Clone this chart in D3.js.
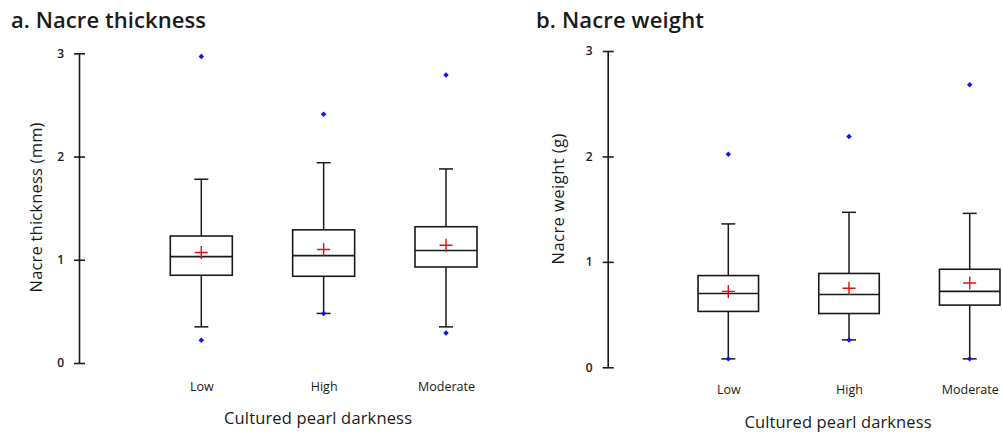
<!DOCTYPE html>
<html>
<head>
<meta charset="utf-8">
<script src="https://cdn.jsdelivr.net/npm/d3@7"></script>
<style>
  html, body { margin: 0; padding: 0; background: #fff; }
  svg { display: block; }
  text { font-family: "Open Sans", Lato, sans-serif; fill: #1a1a1a; }
</style>
</head>
<body>
<svg id="chart" width="1002" height="432"></svg>
<script>
// ---- data ----
const categories = ["Low", "High", "Moderate"];
const yTicks = [0, 1, 2, 3];

// a. Nacre thickness (mm)
const thickWhiskerLow  = [0.35, 0.48, 0.35];
const thickQ1          = [0.85, 0.84, 0.93];
const thickMedian      = [1.03, 1.04, 1.09];
const thickMean        = [1.07, 1.10, 1.14];
const thickQ3          = [1.23, 1.29, 1.32];
const thickWhiskerHigh = [1.78, 1.94, 1.88];
const thickOutliers    = [[2.97, 0.22], [2.41, 0.48], [2.79, 0.29]];

// b. Nacre weight (g)
const weightWhiskerLow  = [0.08, 0.26, 0.08];
const weightQ1          = [0.53, 0.51, 0.59];
const weightMedian      = [0.70, 0.69, 0.72];
const weightMean        = [0.72, 0.75, 0.80];
const weightQ3          = [0.87, 0.89, 0.93];
const weightWhiskerHigh = [1.36, 1.47, 1.46];
const weightOutliers    = [[2.02, 0.08], [2.19, 0.26], [2.68, 0.08]];

// ---- layout ----
const panels = [
  {
    title: "a. Nacre thickness", titleX: 11, titleY: 28, titleLen: 195,
    yLabel: "Nacre thickness (mm)", yLabelX: 35, yLabelY: 207.5, yLabelLen: 170,
    xLabel: "Cultured pearl darkness", xLabelX: 318, xLabelY: 424, xLabelLen: 188,
    axisX: 79, yRange: [363, 53.3], xRange: [201.3, 446], boxW: 62,
    catY: 390,
    stats: { lo: thickWhiskerLow, q1: thickQ1, med: thickMedian, mean: thickMean,
             q3: thickQ3, hi: thickWhiskerHigh, out: thickOutliers }
  },
  {
    title: "b. Nacre weight", titleX: 536, titleY: 28, titleLen: 168,
    yLabel: "Nacre weight (g)", yLabelX: 557, yLabelY: 199, yLabelLen: 131,
    xLabel: "Cultured pearl darkness", xLabelX: 838, xLabelY: 427.5, xLabelLen: 187,
    axisX: 607.7, yRange: [367.3, 51], xRange: [728.3, 969.7], boxW: 60.5,
    catY: 393,
    stats: { lo: weightWhiskerLow, q1: weightQ1, med: weightMedian, mean: weightMean,
             q3: weightQ3, hi: weightWhiskerHigh, out: weightOutliers }
  }
];

const svg = d3.select("#chart");
const lineColor = "#1a1a1a";

panels.forEach(p => {
  const g = svg.append("g");
  const y = d3.scaleLinear().domain([0, 3]).range(p.yRange);
  const x = d3.scalePoint().domain(categories).range(p.xRange);

  // title
  g.append("text").attr("x", p.titleX).attr("y", p.titleY)
    .attr("font-size", 22).attr("font-weight", 600)
    .attr("textLength", p.titleLen).text(p.title);

  // y axis
  const ya = g.append("g").attr("transform", `translate(${p.axisX},0)`)
    .call(d3.axisLeft(y).tickValues(yTicks).tickSize(0).tickPadding(15).tickFormat(d3.format("d")));
  ya.select(".domain").attr("stroke", lineColor).attr("stroke-width", 1.6);
  ya.selectAll(".tick text").attr("font-size", 12).attr("font-family", "'Open Sans', sans-serif")
    .attr("fill", "#1a1a1a").attr("font-weight", 600);
  ya.selectAll(".tick").append("line")
    .attr("x1", -5).attr("x2", 6).attr("stroke", lineColor).attr("stroke-width", 1.6);

  // x axis (labels only)
  const xa = g.append("g").attr("transform", `translate(0,${p.catY - 8})`)
    .call(d3.axisBottom(x).tickSize(0).tickPadding(0));
  xa.select(".domain").remove();
  xa.selectAll(".tick text").attr("font-size", 12.5).attr("font-family", "'Open Sans', sans-serif")
    .attr("fill", "#1a1a1a");

  // axis titles
  g.append("text").attr("x", p.xLabelX).attr("y", p.xLabelY)
    .attr("text-anchor", "middle").attr("font-size", 16.5)
    .attr("textLength", p.xLabelLen).text(p.xLabel);
  g.append("text")
    .attr("transform", `translate(${p.yLabelX},${p.yLabelY}) rotate(-90)`)
    .attr("text-anchor", "middle").attr("dominant-baseline", "central")
    .attr("font-size", 16.5).attr("textLength", p.yLabelLen).text(p.yLabel);

  const s = p.stats;
  const idx = d3.range(categories.length);
  const boxes = g.selectAll(".box").data(idx).join("g").attr("class", "box");
  const cap = 14;

  // whiskers
  boxes.append("line")
    .attr("x1", i => x(categories[i])).attr("x2", i => x(categories[i]))
    .attr("y1", i => y(s.q3[i])).attr("y2", i => y(s.hi[i]))
    .attr("stroke", lineColor).attr("stroke-width", 1.5);
  boxes.append("line")
    .attr("x1", i => x(categories[i])).attr("x2", i => x(categories[i]))
    .attr("y1", i => y(s.q1[i])).attr("y2", i => y(s.lo[i]))
    .attr("stroke", lineColor).attr("stroke-width", 1.5);
  ["hi", "lo"].forEach(k => {
    boxes.append("line")
      .attr("x1", i => x(categories[i]) - cap / 2).attr("x2", i => x(categories[i]) + cap / 2)
      .attr("y1", i => y(s[k][i])).attr("y2", i => y(s[k][i]))
      .attr("stroke", lineColor).attr("stroke-width", 1.5);
  });

  // box
  boxes.append("rect")
    .attr("x", i => x(categories[i]) - p.boxW / 2).attr("width", p.boxW)
    .attr("y", i => y(s.q3[i])).attr("height", i => y(s.q1[i]) - y(s.q3[i]))
    .attr("fill", "none").attr("stroke", lineColor).attr("stroke-width", 1.6);
  boxes.append("line")
    .attr("x1", i => x(categories[i]) - p.boxW / 2).attr("x2", i => x(categories[i]) + p.boxW / 2)
    .attr("y1", i => y(s.med[i])).attr("y2", i => y(s.med[i]))
    .attr("stroke", lineColor).attr("stroke-width", 1.6);

  // mean cross
  const ms = 6.5;
  boxes.append("path")
    .attr("d", i => {
      const cx = x(categories[i]), cy = y(s.mean[i]);
      return `M${cx - ms},${cy}H${cx + ms}M${cx},${cy - ms}V${cy + ms}`;
    })
    .attr("stroke", "#e01010").attr("stroke-width", 1.4).attr("fill", "none");

  // outliers (small diamonds)
  const diamond = d3.symbol().type(d3.symbolSquare).size(15);
  boxes.each(function(i) {
    d3.select(this).selectAll(".out").data(s.out[i]).join("path")
      .attr("class", "out")
      .attr("transform", v => `translate(${x(categories[i])},${y(v)}) rotate(45)`)
      .attr("d", diamond).attr("fill", "#1212f0");
  });
});
</script>
</body>
</html>
